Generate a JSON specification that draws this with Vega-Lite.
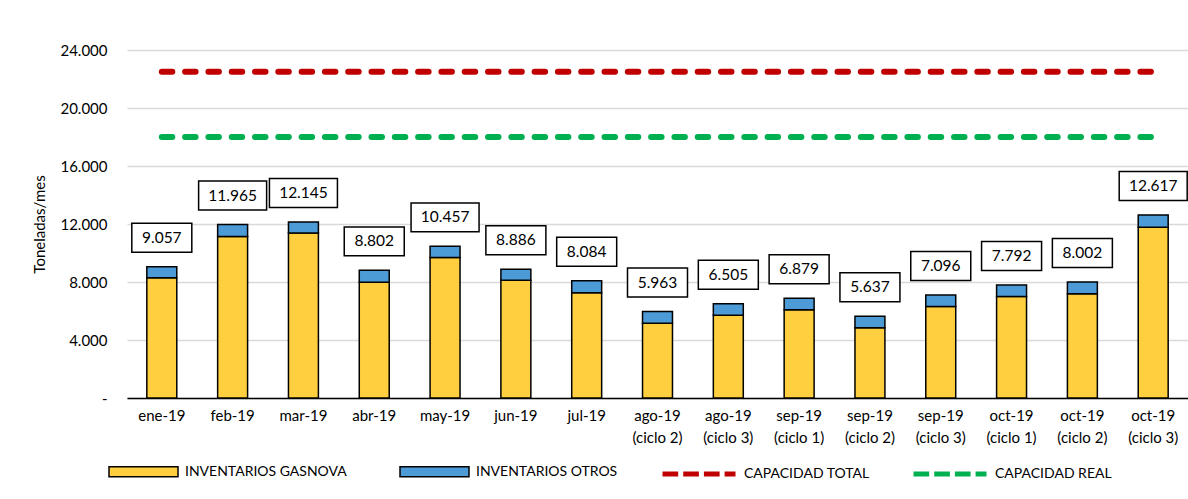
{
  "$schema": "https://vega.github.io/schema/vega-lite/v6.json",
  "width": 1061,
  "height": 348,
  "autosize": {"type": "none"},
  "padding": {"left": 127, "top": 50, "right": 0, "bottom": 101},
  "background": "white",
  "config": {
    "font": "Lato",
    "view": {"stroke": null},
    "axis": {"labelColor": "black", "titleColor": "black", "labelFont": "Lato", "titleFont": "Lato"},
    "legend": {"labelColor": "black", "labelFont": "Lato", "labelLimit": 400}
  },
  "data": {
    "values": [
      {"mes": "ene-19", "gasnova": 8297, "otros": 760, "total": 9057, "cap_total": 22500, "cap_real": 18000},
      {"mes": "feb-19", "gasnova": 11135, "otros": 830, "total": 11965, "cap_total": 22500, "cap_real": 18000},
      {"mes": "mar-19", "gasnova": 11375, "otros": 770, "total": 12145, "cap_total": 22500, "cap_real": 18000},
      {"mes": "abr-19", "gasnova": 7982, "otros": 820, "total": 8802, "cap_total": 22500, "cap_real": 18000},
      {"mes": "may-19", "gasnova": 9687, "otros": 770, "total": 10457, "cap_total": 22500, "cap_real": 18000},
      {"mes": "jun-19", "gasnova": 8116, "otros": 770, "total": 8886, "cap_total": 22500, "cap_real": 18000},
      {"mes": "jul-19", "gasnova": 7254, "otros": 830, "total": 8084, "cap_total": 22500, "cap_real": 18000},
      {"mes": "ago-19 (ciclo 2)", "gasnova": 5163, "otros": 800, "total": 5963, "cap_total": 22500, "cap_real": 18000},
      {"mes": "ago-19 (ciclo 3)", "gasnova": 5705, "otros": 800, "total": 6505, "cap_total": 22500, "cap_real": 18000},
      {"mes": "sep-19 (ciclo 1)", "gasnova": 6089, "otros": 790, "total": 6879, "cap_total": 22500, "cap_real": 18000},
      {"mes": "sep-19 (ciclo 2)", "gasnova": 4837, "otros": 800, "total": 5637, "cap_total": 22500, "cap_real": 18000},
      {"mes": "sep-19 (ciclo 3)", "gasnova": 6306, "otros": 790, "total": 7096, "cap_total": 22500, "cap_real": 18000},
      {"mes": "oct-19 (ciclo 1)", "gasnova": 6992, "otros": 800, "total": 7792, "cap_total": 22500, "cap_real": 18000},
      {"mes": "oct-19 (ciclo 2)", "gasnova": 7182, "otros": 820, "total": 8002, "cap_total": 22500, "cap_real": 18000},
      {"mes": "oct-19 (ciclo 3)", "gasnova": 11777, "otros": 840, "total": 12617, "cap_total": 22500, "cap_real": 18000}
    ]
  },
  "encoding": {
    "x": {
      "field": "mes",
      "type": "nominal",
      "sort": null,
      "scale": {
        "domain": ["ene-19", "feb-19", "mar-19", "abr-19", "may-19", "jun-19", "jul-19", "ago-19 (ciclo 2)", "ago-19 (ciclo 3)", "sep-19 (ciclo 1)", "sep-19 (ciclo 2)", "sep-19 (ciclo 3)", "oct-19 (ciclo 1)", "oct-19 (ciclo 2)", "oct-19 (ciclo 3)"],
        "paddingInner": 0.577,
        "paddingOuter": 0.28
      },
      "axis": {
        "title": null,
        "labelAngle": 0,
        "ticks": false,
        "domainColor": "black",
        "domainWidth": 1.5,
        "labelFontSize": 15,
        "labelPadding": 10,
        "labelLineHeight": 22,
        "labelBaseline": "top",
        "labelExpr": "indexof(datum.label, ' (') > 0 ? [substring(datum.label, 0, indexof(datum.label, ' (')), substring(datum.label, indexof(datum.label, ' (') + 1)] : datum.label"
      }
    }
  },
  "layer": [
    {
      "transform": [{"fold": ["gasnova", "otros"], "as": ["serie", "valor"]}],
      "mark": {"type": "bar", "stroke": "black", "strokeWidth": 1.5},
      "encoding": {
        "y": {
          "field": "valor",
          "type": "quantitative",
          "stack": "zero",
          "scale": {"domain": [0, 24000]},
          "axis": {
            "values": [0, 4000, 8000, 12000, 16000, 20000, 24000],
            "grid": true,
            "gridColor": "#D9D9D9",
            "gridWidth": 1.5,
            "domain": false,
            "ticks": false,
            "labelPadding": 20,
            "labelFontSize": 15,
            "labelExpr": "datum.value == 0 ? '-' : replace(format(datum.value, ','), ',', '.')",
            "title": "Toneladas/mes",
            "titleFontSize": 15,
            "titleFontWeight": "normal",
            "titlePadding": 12
          }
        },
        "fill": {
          "field": "serie",
          "type": "nominal",
          "scale": {"domain": ["gasnova", "otros"], "range": ["#FFCF40", "#4C9AD6"]},
          "legend": {
            "title": null,
            "orient": "none",
            "direction": "horizontal",
            "legendX": -19,
            "legendY": 386,
            "symbolType": "M-1,-0.145H1V0.145H-1Z",
            "symbolSize": 4761,
            "symbolStrokeColor": "black",
            "symbolStrokeWidth": 1.5,
            "labelFontSize": 14,
            "labelOffset": 6,
            "columnPadding": 50,
            "labelExpr": "datum.label == 'gasnova' ? 'INVENTARIOS GASNOVA' : 'INVENTARIOS OTROS'"
          }
        },
        "order": {"field": "serie", "sort": "ascending"}
      }
    },
    {
      "transform": [{"fold": ["cap_total", "cap_real"], "as": ["cap", "capv"]}],
      "mark": {"type": "line", "strokeWidth": 6, "strokeDash": [10.5, 12.8], "strokeCap": "round"},
      "encoding": {
        "y": {"field": "capv", "type": "quantitative"},
        "stroke": {
          "field": "cap",
          "type": "nominal",
          "scale": {"domain": ["cap_total", "cap_real"], "range": ["#C00000", "#00B050"]},
          "legend": {
            "title": null,
            "orient": "none",
            "direction": "horizontal",
            "legendX": 533,
            "legendY": 385,
            "symbolType": "stroke",
            "symbolSize": 5329,
            "symbolStrokeWidth": 5,
            "symbolDash": [15.7, 5],
            "labelFontSize": 14,
            "labelOffset": 6,
            "columnPadding": 33,
            "labelExpr": "datum.label == 'cap_total' ? 'CAPACIDAD TOTAL' : 'CAPACIDAD REAL'"
          }
        }
      }
    },
    {
      "mark": {"type": "point", "filled": true, "fill": "white", "stroke": "black", "strokeWidth": 1.5, "opacity": 1, "yOffset": -29},
      "encoding": {
        "y": {"field": "total", "type": "quantitative"},
        "shape": {"condition": {"test": "datum.total >= 10000", "value": "M-1,-0.426H1V0.426H-1Z"}, "value": "M-1,-0.483H1V0.483H-1Z"},
        "size": {"condition": {"test": "datum.total >= 10000", "value": 4624}, "value": 3600}
      }
    },
    {
      "transform": [{"calculate": "replace(format(datum.total, ','), ',', '.')", "as": "etiqueta"}],
      "mark": {"type": "text", "fontSize": 15.5, "baseline": "middle", "align": "center", "yOffset": -29, "fill": "black", "font": "Lato"},
      "encoding": {
        "y": {"field": "total", "type": "quantitative"},
        "text": {"field": "etiqueta"}
      }
    }
  ]
}
